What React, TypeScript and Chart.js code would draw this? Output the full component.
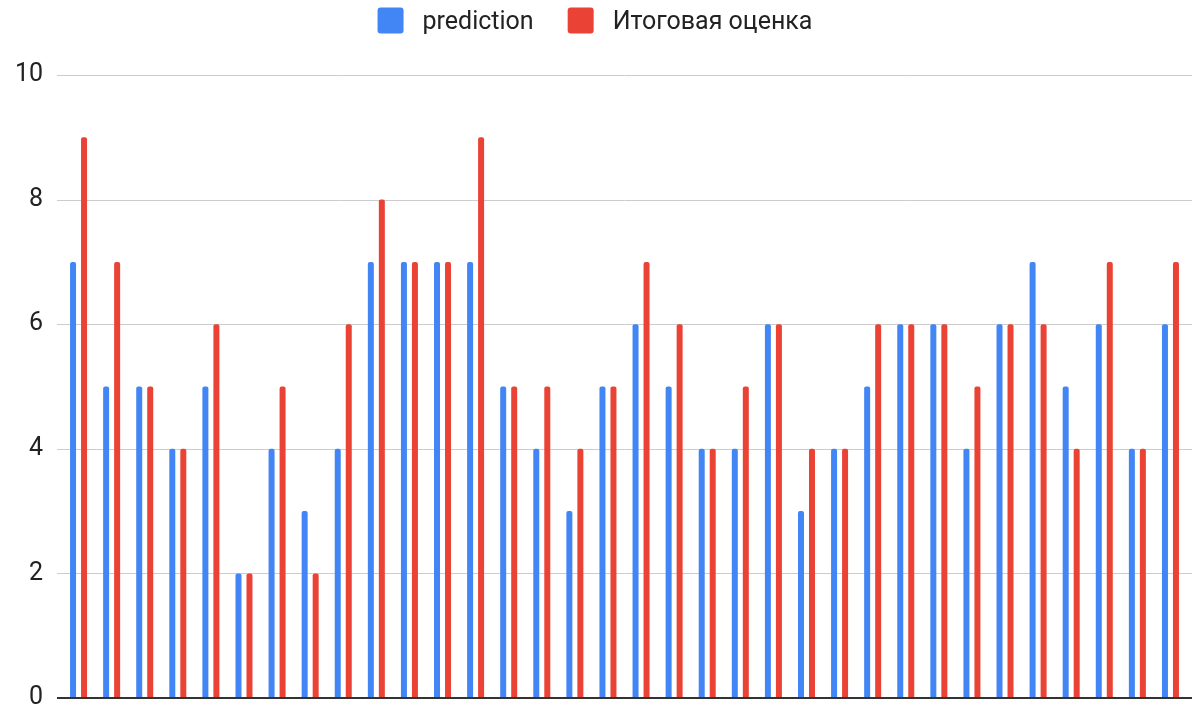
import React, { useEffect, useRef } from "react";
import { Chart, registerables } from "chart.js";

Chart.register(...registerables);

const categories: string[] = Array.from({ length: 34 }, (_, i) => String(i + 1));
const seriesNames = ["prediction", "Итоговая оценка"];
const prediction = [7, 5, 5, 4, 5, 2, 4, 3, 4, 7, 7, 7, 7, 5, 4, 3, 5, 6, 5, 4, 4, 6, 3, 4, 5, 6, 6, 4, 6, 7, 5, 6, 4, 6];
const finalScore = [9, 7, 5, 4, 6, 2, 5, 2, 6, 8, 7, 7, 9, 5, 5, 4, 5, 7, 6, 4, 5, 6, 4, 4, 6, 6, 6, 5, 6, 6, 4, 7, 4, 7];
const yTicks = [0, 2, 4, 6, 8, 10];

const BLUE = "#4285F4";
const RED = "#EA4335";
const FONT = "Roboto, 'Noto Sans', sans-serif";
const FONT_SIZE = 25;

const gridPlugin = {
  id: "customGrid",
  beforeDatasetsDraw(chart: any) {
    const { ctx, chartArea } = chart;
    const y = chart.scales.y;
    ctx.save();
    ctx.strokeStyle = "#cccccc";
    ctx.lineWidth = 1;
    for (const v of yTicks) {
      if (v === 0) continue;
      const py = Math.round(y.getPixelForValue(v)) + 0.5;
      ctx.beginPath();
      ctx.moveTo(chartArea.left - 5, py);
      ctx.lineTo(chartArea.right + 5, py);
      ctx.stroke();
    }
    ctx.restore();
  },
  afterDatasetsDraw(chart: any) {
    const { ctx, chartArea } = chart;
    const y = chart.scales.y;
    const py = y.getPixelForValue(0);
    ctx.save();
    ctx.strokeStyle = "#333333";
    ctx.lineWidth = 2;
    ctx.beginPath();
    ctx.moveTo(chartArea.left - 5, py);
    ctx.lineTo(chartArea.right + 5, py);
    ctx.stroke();
    ctx.restore();
  },
};

const legendPlugin = {
  id: "customLegend",
  afterDraw(chart: any) {
    const { ctx, width } = chart;
    ctx.save();
    ctx.font = `${FONT_SIZE}px ${FONT}`;
    const box = 26;
    const gapText = 19;
    const gapItem = 34;
    const items = chart.data.datasets.map((d: any) => ({
      label: d.label as string,
      color: d.backgroundColor as string,
      w: ctx.measureText(d.label).width,
    }));
    let total = 0;
    items.forEach((it: any, i: number) => {
      total += box + gapText + it.w + (i < items.length - 1 ? gapItem : 0);
    });
    let x = (width - total) / 2 - 5;
    const cy = 20.5;
    for (const it of items) {
      ctx.fillStyle = it.color;
      ctx.beginPath();
      (ctx as any).roundRect(x, cy - box / 2, box, box, 3);
      ctx.fill();
      ctx.fillStyle = "#222222";
      ctx.textBaseline = "alphabetic";
      ctx.textAlign = "left";
      ctx.fillText(it.label, x + box + gapText, 29);
      x += box + gapText + it.w + gapItem;
    }
    ctx.restore();
  },
};

export default function App() {
  const ref = useRef<HTMLCanvasElement | null>(null);

  useEffect(() => {
    document.body.style.margin = "0";
    if (!ref.current) return;
    const chart = new Chart(ref.current, {
      type: "bar",
      data: {
        labels: categories,
        datasets: [
          {
            label: seriesNames[0],
            data: prediction,
            backgroundColor: BLUE,
            borderRadius: 2,
            categoryPercentage: 0.665,
            barPercentage: 0.545,
          },
          {
            label: seriesNames[1],
            data: finalScore,
            backgroundColor: RED,
            borderRadius: 2,
            categoryPercentage: 0.665,
            barPercentage: 0.545,
          },
        ],
      },
      options: {
        animation: false,
        responsive: false,
        maintainAspectRatio: false,
        layout: { padding: { top: 75, right: 13, bottom: 10, left: 0 } },
        plugins: {
          legend: { display: false },
          tooltip: { enabled: false },
        },
        scales: {
          x: {
            display: false,
          },
          y: {
            min: 0,
            max: 10,
            afterFit: (scale: any) => {
              scale.width = 62;
            },
            afterBuildTicks: (scale: any) => {
              scale.ticks = yTicks.map((v) => ({ value: v }));
            },
            ticks: {
              padding: 0,
              color: "#222222",
              font: { family: FONT, size: FONT_SIZE, lineHeight: 0.8 },
            },
            grid: { display: false, drawTicks: true, tickLength: 19 },
            border: { display: false },
          },
        },
      },
      plugins: [gridPlugin, legendPlugin],
    });
    return () => chart.destroy();
  }, []);

  return (
    <div style={{ width: 1200, height: 708 }}>
      <canvas ref={ref} width={1200} height={708} style={{ display: "block" }} />
    </div>
  );
}
